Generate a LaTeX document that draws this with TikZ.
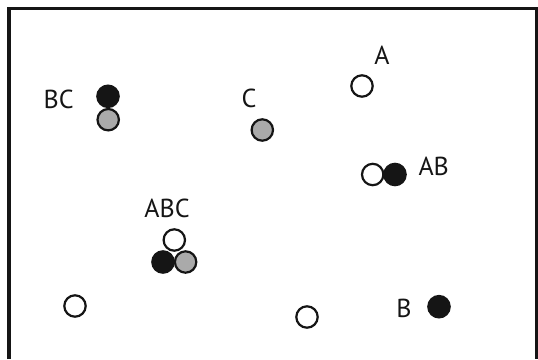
\documentclass[tikz,border=0pt]{standalone}
\usepackage{fontspec}
\setmainfont{PT Sans}
\definecolor{ink}{HTML}{151515}
\definecolor{midgray}{HTML}{AAAAAA}
\begin{document}
\begin{tikzpicture}[x=1pt,y=-1pt,
  dot/.style={circle,draw=ink,line width=2.2pt,minimum size=21.4pt,inner sep=0pt},
  hollow/.style={dot,fill=white},
  solid/.style={dot,fill=ink},
  shaded/.style={dot,fill=midgray},
  lbl/.style={font=\fontsize{26}{26}\selectfont,text=ink,anchor=base,inner sep=0pt}]
\useasboundingbox (0,0) rectangle (538,359);
% open-bottomed frame
\draw[ink,line width=3.4pt] (9,359) -- (9,8.5) -- (536.8,8.5) -- (536.8,359);

% A
\node[lbl] (tA) at (382,64) {A};
\node[hollow] (a1) at (362,86) {};
% BC
\node[lbl] (tBC) at (58.7,108) {BC};
\node[solid] (bc1) at (108,96.3) {};
\node[shaded] (bc2) at (108.2,119.7) {};
% C
\node[lbl] (tC) at (249,107.5) {C};
\node[shaded] (c1) at (262.3,130) {};
% AB
\node[hollow] (ab1) at (372.7,174.5) {};
\node[solid] (ab2) at (395,174.5) {};
\node[lbl] (tAB) at (433.7,175) {AB};
% ABC
\node[lbl] (tABC) at (167,217.5) {ABC};
\node[hollow] (abc1) at (174.3,240) {};
\node[solid] (abc2) at (163,262) {};
\node[shaded] (abc3) at (185.6,262) {};
% loose points
\node[hollow] (p1) at (75,306) {};
\node[hollow] (p2) at (307,317) {};
% B
\node[lbl] (tB) at (404,317) {B};
\node[solid] (b1) at (439,306.7) {};
\end{tikzpicture}
\end{document}
